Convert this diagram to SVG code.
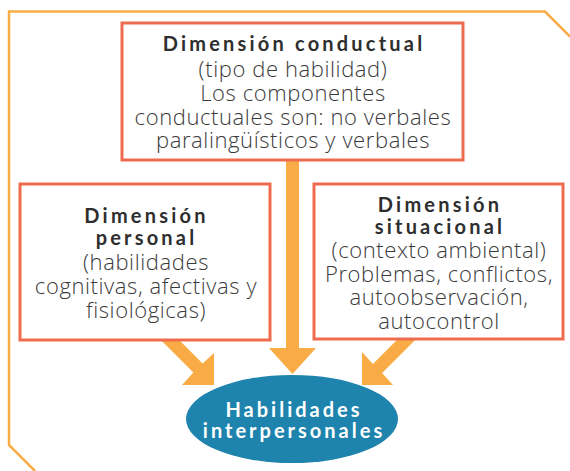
<svg xmlns="http://www.w3.org/2000/svg" width="570" height="471" viewBox="0 0 570 471">
<style>
.box{fill:#fff;stroke:#EE6C4D;stroke-width:3}
.arrow{fill:#F9AC45}
.h{font-family:Lato,"Noto Sans",sans-serif;font-weight:700;font-size:20px;letter-spacing:3.2px;fill:#2e2e2e;text-anchor:middle}
.b{font-family:"Open Sans","Noto Sans",sans-serif;font-weight:300;font-size:22px;letter-spacing:0.6px;fill:#3a3a3a;text-anchor:middle}
.w{font-family:Lato,"Noto Sans",sans-serif;font-weight:700;font-size:20px;letter-spacing:3px;fill:#fff;text-anchor:middle}
</style>
<rect width="570" height="471" fill="#fff"/>
<path d="M35,471 L9,445 L9,11.5 L545,11.5 L570,36.5" fill="none" stroke="#F9AC45" stroke-width="2.5"/>
<g id="connectors">
<polygon class="arrow" points="286,150 299,150 299,348 316,348 292.5,374 269,348 286,348"/>
<polygon class="arrow" points="169.6,330.4 202.6,363.4 214,353 214,385 182,385 193.4,372.6 160.4,339.6"/>
<polygon class="arrow" points="415.6,339.6 382.1,373.1 393,385 362,385 362,352 372.9,363.9 406.4,330.4"/>
</g>
<g id="conductual">
<rect class="box" x="122" y="23" width="341" height="137"/>
<text class="h" x="294" y="51">Dimensión conductual</text>
<text class="b" x="293" y="77">(tipo de habilidad)</text>
<text class="b" x="293" y="101">Los componentes</text>
<text class="b" x="293" y="125">conductuales son: no verbales</text>
<text class="b" x="293" y="148">paralingüísticos y verbales</text>
</g>
<g id="personal">
<rect class="box" x="20" y="184" width="250" height="156"/>
<text class="h" x="146.5" y="223">Dimensión</text>
<text class="h" x="146.5" y="245">personal</text>
<text class="b" x="146" y="270">(habilidades</text>
<text class="b" x="146" y="294">cognitivas, afectivas y</text>
<text class="b" x="146" y="318">fisiológicas)</text>
</g>
<g id="situacional">
<rect class="box" x="314" y="184" width="249" height="155"/>
<text class="h" x="440" y="212">Dimensión</text>
<text class="h" x="440" y="234">situacional</text>
<text class="b" x="439" y="258">(contexto ambiental)</text>
<text class="b" x="439" y="282">Problemas, conflictos,</text>
<text class="b" x="439" y="305">autoobservación,</text>
<text class="b" x="439" y="329">autocontrol</text>
</g>
<g id="habilidades">
<ellipse cx="292" cy="419" rx="106" ry="44" fill="#1E84AD"/>
<text class="w" x="294" y="417">Habilidades</text>
<text class="w" x="294" y="438">interpersonales</text>
</g>
</svg>
